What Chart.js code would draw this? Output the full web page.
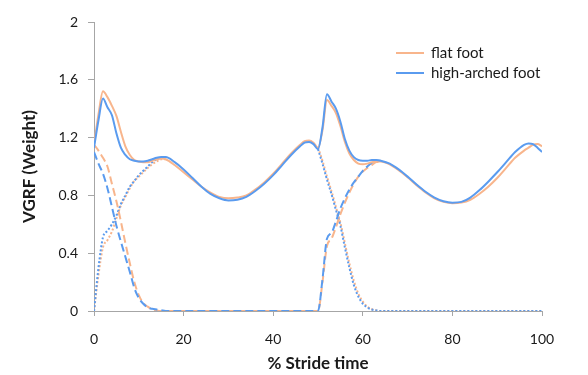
<!DOCTYPE html>
<html>
<head>
<meta charset="utf-8">
<script src="https://cdn.jsdelivr.net/npm/chart.js@4.4.0/dist/chart.umd.min.js"></script>
<style>
  html, body { margin: 0; padding: 0; background: #fff; }
</style>
</head>
<body>
<canvas id="chart" width="588" height="375"></canvas>
<script>
// % stride time (x)
const stride = [0, 1, 2, 3, 4, 5, 6, 7, 8, 9, 10, 11, 12, 13, 14, 15, 16,
  18, 20, 22, 24, 26, 28, 30, 32, 34, 36, 38, 40, 42, 44, 46,
  47, 48, 49,
  50, 51, 52, 53, 54, 55, 56, 57, 58, 59, 60, 61, 62, 63, 64,
  66, 68, 70, 72, 74, 76, 78, 80, 82, 84, 86, 88, 90, 92, 94, 96,
  97, 98, 99, 100];

// total VGRF
const flatTotal = [1.15, 1.36, 1.52, 1.48, 1.42, 1.35, 1.24, 1.14, 1.08, 1.045, 1.035, 1.03, 1.03, 1.04, 1.05, 1.055, 1.05,
  1.01, 0.96, 0.91, 0.86, 0.82, 0.79, 0.78, 0.785, 0.80, 0.84, 0.89, 0.95, 1.02, 1.09, 1.15,
  1.175, 1.18, 1.165,
  1.13, 1.25, 1.46, 1.42, 1.37, 1.28, 1.17, 1.09, 1.045, 1.02, 1.015, 1.02, 1.03, 1.035, 1.035,
  1.015, 0.975, 0.925, 0.87, 0.82, 0.78, 0.755, 0.745, 0.75, 0.77, 0.81, 0.86, 0.92, 0.99, 1.06, 1.11,
  1.13, 1.15, 1.155, 1.14];
const highTotal = [1.13, 1.32, 1.47, 1.41, 1.355, 1.23, 1.13, 1.08, 1.05, 1.04, 1.035, 1.035, 1.04, 1.05, 1.06, 1.065, 1.065,
  1.03, 0.98, 0.92, 0.86, 0.81, 0.78, 0.765, 0.77, 0.79, 0.83, 0.88, 0.94, 1.01, 1.08, 1.14,
  1.165, 1.17, 1.155,
  1.12, 1.27, 1.50, 1.45, 1.40, 1.31, 1.19, 1.11, 1.065, 1.045, 1.04, 1.04, 1.045, 1.045, 1.04,
  1.02, 0.98, 0.93, 0.875, 0.825, 0.785, 0.76, 0.75, 0.755, 0.785, 0.835, 0.895, 0.96, 1.03, 1.10, 1.15,
  1.16, 1.155, 1.13, 1.10];

// dashed component (null where it runs under the total curve)
const flatDashed = [1.15, 1.11, 1.06, 1.0, 0.88, 0.76, 0.62, 0.47, 0.33, 0.2, 0.11, 0.055, 0.03, 0.012, 0.004, 0, 0,
  0, 0, 0, 0, 0, 0, 0, 0, 0, 0, 0, 0, 0, 0, 0,
  0, 0, 0,
  0, 0.2, 0.45, 0.5, 0.58, 0.67, 0.75, 0.82, 0.88, 0.93, 0.965, 0.99, 1.01, 1.03, 1.035,
  null, null, null, null, null, null, null, null, null, null, null, null, null, null, null, null,
  null, null, null, null];
const highDashed = [1.1, 1.02, 0.95, 0.85, 0.72, 0.59, 0.48, 0.375, 0.27, 0.16, 0.09, 0.05, 0.025, 0.015, 0.01, 0.005, 0,
  0, 0, 0, 0, 0, 0, 0, 0, 0, 0, 0, 0, 0, 0, 0,
  0, 0, 0,
  0, 0.22, 0.5, 0.54, 0.62, 0.71, 0.78, 0.84, 0.89, 0.93, 0.97, 1.0, 1.025, 1.04, 1.04,
  null, null, null, null, null, null, null, null, null, null, null, null, null, null, null, null,
  null, null, null, null];

// dotted component
const flatDotted = [0, 0.25, 0.44, 0.49, 0.55, 0.64, 0.73, 0.79, 0.85, 0.9, 0.93, 0.96, 0.99, 1.015, 1.035, 1.05, 1.05,
  null, null, null, null, null, null, null, null, null, null, null, null, null, null, null,
  null, null, null,
  1.13, 1.04, 0.93, 0.83, 0.72, 0.61, 0.47, 0.33, 0.21, 0.12, 0.065, 0.03, 0.012, 0.004, 0,
  0, 0, 0, 0, 0, 0, 0, 0, 0, 0, 0, 0, 0, 0, 0, 0,
  0, 0, 0, 0];
const highDotted = [0, 0.3, 0.51, 0.555, 0.6, 0.66, 0.74, 0.8, 0.86, 0.9, 0.94, 0.97, 1.0, 1.03, 1.05, 1.06, 1.065,
  null, null, null, null, null, null, null, null, null, null, null, null, null, null, null,
  null, null, null,
  1.12, 1.02, 0.91, 0.81, 0.7, 0.59, 0.44, 0.3, 0.18, 0.1, 0.05, 0.025, 0.01, 0.004, 0,
  0, 0, 0, 0, 0, 0, 0, 0, 0, 0, 0, 0, 0, 0, 0, 0,
  0, 0, 0, 0];

const strideTicks = [0, 20, 40, 60, 80, 100];
const vgrfTicks = [0, 0.4, 0.8, 1.2, 1.6, 2];
const vgrfTickLabels = ["0", "0.4", "0.8", "1.2", "1.6", "2"];

const ORANGE = "#F8B58C";
const BLUE = "#5A9BEF";
const AXIS = "#A6A6A6";

function points(values) {
  return stride.map((x, i) => ({ x: x, y: values[i] }));
}

function line(label, values, color, dash, legendIndex) {
  return {
    label: label,
    data: points(values),
    borderColor: color,
    backgroundColor: color,
    borderWidth: 2,
    borderDash: dash,
    pointRadius: 0,
    cubicInterpolationMode: "monotone",
    fill: false,
    legendIndex: legendIndex,
  };
}

// draws the two-entry legend inside the plot, top right
const cornerLegend = {
  id: "cornerLegend",
  afterDraw(chart) {
    const ctx = chart.ctx;
    const area = chart.chartArea;
    const items = chart.data.datasets
      .filter((d) => d.legendIndex !== undefined)
      .sort((a, b) => a.legendIndex - b.legendIndex);
    ctx.save();
    ctx.font = "15px Lato";
    ctx.textBaseline = "middle";
    ctx.fillStyle = "#1a1a1a";
    items.forEach((d, i) => {
      const y = area.top + 31 + i * 20;
      ctx.strokeStyle = d.borderColor;
      ctx.lineWidth = 2;
      ctx.beginPath();
      ctx.moveTo(area.right - 146, y);
      ctx.lineTo(area.right - 118, y);
      ctx.stroke();
      ctx.fillText(d.label, area.right - 111, y);
    });
    ctx.restore();
  },
};

Chart.defaults.font.family = "Lato";
Chart.defaults.font.size = 14;
Chart.defaults.color = "#1a1a1a";

const crx = document.getElementById("chart").getContext("2d");

const myChart = new Chart(crx, {
  type: "line",
  data: {
    datasets: [
      line("high-arched foot", highTotal, BLUE, [], 1),
      line("flat foot", flatTotal, ORANGE, [], 0),
      line("", highDashed, BLUE, [8, 4]),
      line("", flatDashed, ORANGE, [8, 4]),
      line("", highDotted, BLUE, [2, 2]),
      line("", flatDotted, ORANGE, [2, 2]),
    ],
  },
  options: {
    responsive: false,
    animation: false,
    layout: { padding: { left: 0, top: 22, right: 46, bottom: 0 } },
    plugins: {
      legend: { display: false },
      tooltip: { enabled: false },
    },
    scales: {
      x: {
        type: "linear",
        min: 0,
        max: 100,
        afterBuildTicks: (s) => {
          s.ticks = strideTicks.map((v) => ({ value: v }));
        },
        afterFit: (s) => {
          s.height = 64;
        },
        ticks: { padding: 15, maxRotation: 0 },
        grid: { drawOnChartArea: false, tickLength: 5, color: AXIS },
        border: { color: AXIS },
        title: {
          display: true,
          text: "% Stride time",
          font: { size: 17, weight: "bold" },
          padding: { top: 0, bottom: 1 },
        },
      },
      y: {
        min: 0,
        max: 2,
        afterBuildTicks: (s) => {
          s.ticks = vgrfTicks.map((v) => ({ value: v }));
        },
        afterFit: (s) => {
          s.width = 94;
        },
        ticks: {
          padding: 10,
          callback: (v, i) => vgrfTickLabels[i],
        },
        grid: { drawOnChartArea: false, tickLength: 6, color: AXIS },
        border: { color: AXIS },
        title: {
          display: true,
          text: "VGRF (Weight)",
          font: { size: 17, weight: "bold" },
          padding: { top: 19, bottom: 0 },
        },
      },
    },
  },
  plugins: [cornerLegend],
});
</script>
</body>
</html>
